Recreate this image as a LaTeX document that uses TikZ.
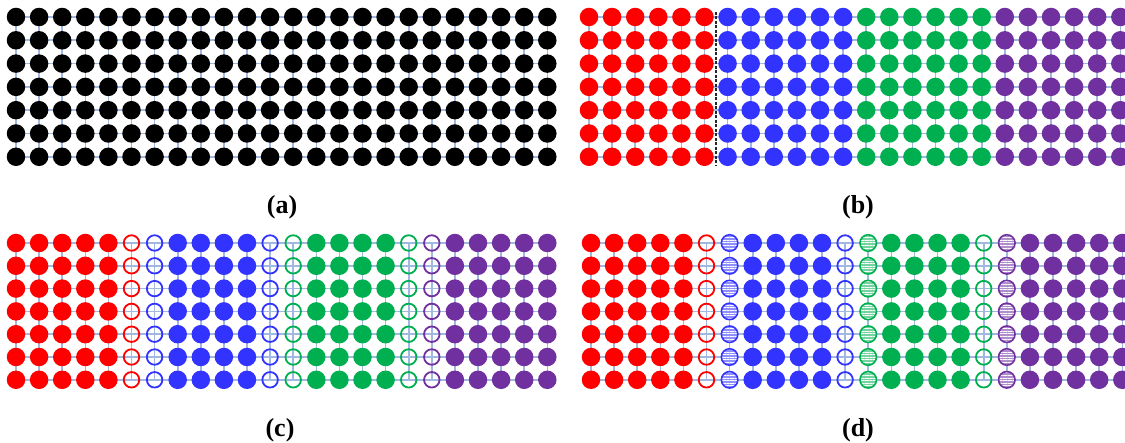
\documentclass[tikz,border=0pt]{standalone}
\usepackage{fontspec}
\setmainfont{Liberation Serif}
\usetikzlibrary{backgrounds, patterns.meta}

\definecolor{pRed}{RGB}{255,0,0}
\definecolor{pBlue}{RGB}{51,51,255}
\definecolor{pGreen}{RGB}{0,176,80}
\definecolor{pPurple}{RGB}{112,48,160}
\definecolor{gridBlue}{RGB}{68,114,196}

\tikzset{
  full/.style={circle, fill=#1, inner sep=0pt, minimum size=18.5pt},
  ghost/.style={circle, draw=#1, line width=1.8pt, inner sep=0pt, minimum size=15.5pt},
  halo/.style={circle, preaction={fill=#1!55}, pattern={Lines[distance=2.6pt, line width=0.9pt]},
    pattern color=white, draw=#1, line width=1.6pt, inner sep=0pt, minimum size=16.5pt},
  gridline/.style={gridBlue!50, line width=1.6pt},
  cutline/.style={black!85, line width=1.3pt, dash pattern=on 3pt off 1.5pt},
  caption/.style={font=\fontsize{26}{30}\selectfont\bfseries}
}

\begin{document}
\begin{tikzpicture}[x=1pt, y=-1pt]
  \useasboundingbox (0,0) rectangle (1125,443);

  % panels: name / left x / top y / row step / mode
  \foreach \p/\xo/\yo/\dy/\mode in {a/16/17/23.3/0, b/589/17/23.3/1, c/16/243/22.8/2, d/591/243/22.8/3} {
    \foreach \col [count=\g from 0] in {pRed,pBlue,pGreen,pPurple} {
      \foreach \k in {0,...,5} {
        \pgfmathtruncatemacro\c{6*\g+\k}
        % 0 = filled, 1 = hollow, 2 = hatched
        \def\kind{0}
        \ifnum\mode=0 \def\col{black}\fi
        \ifnum\mode=2
          \ifnum\k=5 \ifnum\g<3 \def\kind{1}\fi\fi
          \ifnum\k=0 \ifnum\g>0 \def\kind{1}\fi\fi
        \fi
        \ifnum\mode=3
          \ifnum\k=5 \ifnum\g<3 \def\kind{1}\fi\fi
          \ifnum\k=0 \ifnum\g>0 \def\kind{2}\fi\fi
        \fi
        \foreach \r in {0,...,6} {
          \ifcase\kind
            \node[full=\col] (\p-\c-\r) at (\xo+23.1*\c, \yo+\dy*\r) {};
          \or
            \node[ghost=\col] (\p-\c-\r) at (\xo+23.1*\c, \yo+\dy*\r) {};
          \or
            \node[halo=\col] (\p-\c-\r) at (\xo+23.1*\c, \yo+\dy*\r) {};
          \fi
        }
      }
    }
    % mesh lines behind the nodes
    \begin{scope}[on background layer]
      \foreach \r in {0,...,6}
        \draw[gridline] (\p-0-\r.center) -- (\p-23-\r.center);
      \foreach \c in {0,...,23}
        \draw[gridline] (\p-\c-0.center) -- (\p-\c-6.center);
    \end{scope}
  }

  % cut between red and blue in (b)
  \coordinate (cut-top) at (716,12);
  \coordinate (cut-bot) at (716,166);
  \draw[cutline] (cut-top) -- (cut-bot);

  % captions
  \node[caption] (lab-a) at (282,207) {(a)};
  \node[caption] (lab-b) at (858,207) {(b)};
  \node[caption] (lab-c) at (280,430) {(c)};
  \node[caption] (lab-d) at (858,430) {(d)};
\end{tikzpicture}
\end{document}
